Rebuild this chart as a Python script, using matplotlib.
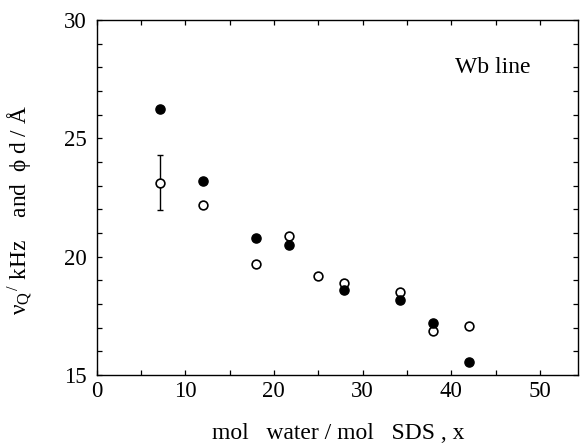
import numpy as np
import matplotlib.pyplot as plt
from matplotlib.ticker import MultipleLocator

# filled circles: nu_Q / kHz
x_filled = [7.2, 12.0, 18.0, 21.7, 27.9, 34.2, 37.9, 42.0]
y_filled = [26.24, 23.21, 20.78, 20.48, 18.59, 18.17, 17.19, 15.56]

# open circles: phi d / A
x_open = [7.2, 12.0, 18.0, 21.7, 25.0, 27.9, 34.2, 37.9, 42.0]
y_open = [23.13, 22.18, 19.69, 20.89, 19.18, 18.88, 18.49, 16.87, 17.07]
err_open = [1.15, 0, 0, 0, 0, 0, 0, 0, 0]

plt.rcParams['font.family'] = ['Liberation Serif', 'DejaVu Serif']
plt.rcParams['mathtext.fontset'] = 'stix'

fig = plt.figure(figsize=(5.8, 4.43), dpi=100)
ax = fig.add_axes([0.1664, 0.1535, 0.8302, 0.8014])

# error bar only on the first open point
ax.errorbar(x_open[:1], y_open[:1], yerr=err_open[:1], fmt='none',
            ecolor='black', elinewidth=1.0, capsize=2.2, capthick=1.0, zorder=2)
ax.plot(x_open, y_open, 'o', ms=6.3, mfc='white', mec='black', mew=1.2, zorder=3)
ax.plot(x_filled, y_filled, 'o', ms=6.6, mfc='black', mec='black', zorder=4)

ax.set_xlim(0, 54.3)
ax.set_ylim(15, 30)
ax.xaxis.set_major_locator(MultipleLocator(10))
ax.xaxis.set_minor_locator(MultipleLocator(5))
ax.yaxis.set_major_locator(MultipleLocator(5))
ax.yaxis.set_minor_locator(MultipleLocator(1))
ax.tick_params(which='both', direction='in', top=True, right=True,
               length=3.8, width=0.9, labelsize=16.5)
ax.tick_params(axis='x', pad=4)
ax.tick_params(axis='y', pad=7)
for s in ax.spines.values():
    s.set_linewidth(1.0)

ax.text(0.822, 0.865, 'Wb line', transform=ax.transAxes, fontsize=17,
        ha='center', va='center')

ax.set_xlabel('mol   water / mol   SDS , x', fontsize=17)
ax.xaxis.set_label_coords(0.503, -0.135)
ax.set_ylabel(r'ν$_\mathregular{Q}$$^\mathregular{/}$ kHz    and  ϕ d / Å', fontsize=16.8)
ax.yaxis.set_label_coords(-0.13, 0.465)

fig.savefig('out.png', dpi=100)
